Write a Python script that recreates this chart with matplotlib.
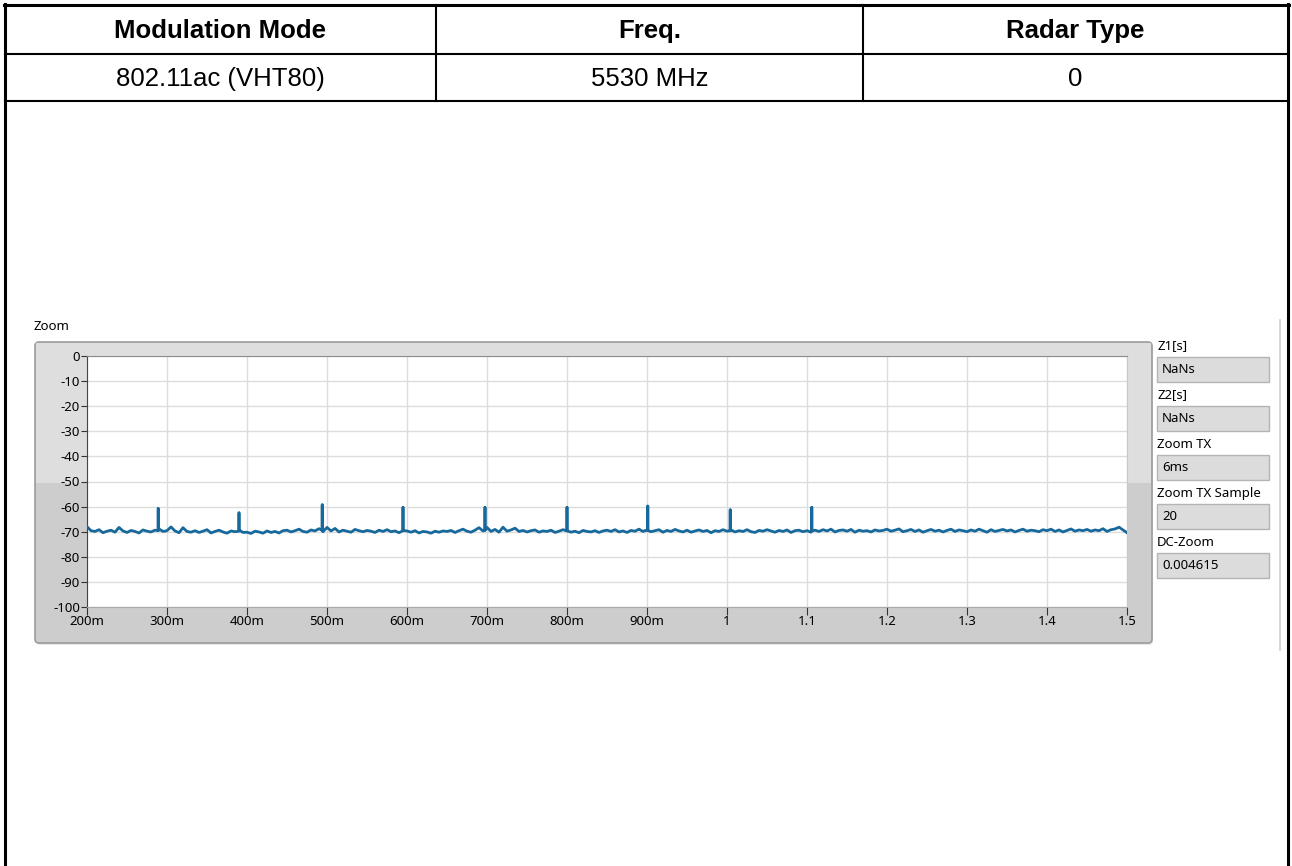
import numpy as np
import matplotlib
matplotlib.use('Agg')
import matplotlib.pyplot as plt
from matplotlib.patches import Rectangle, FancyBboxPatch

# table contents
headers = ['Modulation Mode', 'Freq.', 'Radar Type']
row_values = ['802.11ac (VHT80)', '5530 MHz', '0']

# indicator panel on the right of the graph
ind_labels = ['Z1[s]', 'Z2[s]', 'Zoom TX', 'Zoom TX Sample', 'DC-Zoom']
ind_values = ['NaNs', 'NaNs', '6ms', '20', '0.004615']

# axes ticks
y_ticks = [0, -10, -20, -30, -40, -50, -60, -70, -80, -90, -100]
x_ticks = [0.2, 0.3, 0.4, 0.5, 0.6, 0.7, 0.8, 0.9, 1.0, 1.1, 1.2, 1.3, 1.4, 1.5]
x_tick_labels = ['200m', '300m', '400m', '500m', '600m', '700m', '800m', '900m',
                 '1', '1.1', '1.2', '1.3', '1.4', '1.5']

# baseline trace, one value every 5 ms from 0.2 s to 1.5 s
baseline = [
    -68.0, -69.6, -69.9, -69.2, -70.4, -69.8, -69.4, -70.2, -68.3, -69.7,
    -70.3, -69.5, -69.9, -70.5, -69.3, -69.8, -70.1, -69.4, -68.9, -69.9,
    -69.6, -68.1, -69.7, -70.4, -68.4, -69.9, -70.2, -69.6, -70.3, -69.8,
    -69.2, -70.5, -69.9, -69.4, -70.1, -70.6, -69.7, -70.0, -69.3, -70.3,
    -70.2, -70.7, -69.8, -70.1, -70.6, -69.7, -70.3, -69.9, -70.5, -69.6,
    -69.4, -70.1, -69.6, -69.0, -69.9, -70.2, -69.3, -69.7, -68.8, -70.0,
    -68.3, -69.7, -68.7, -70.1, -69.4, -69.8, -70.2, -69.1, -69.6, -70.0,
    -69.5, -69.8, -70.3, -69.4, -69.9, -69.2, -70.0, -69.7, -70.4, -69.5,
    -69.7, -70.2, -69.6, -70.5, -69.9, -70.1, -70.6, -69.8, -70.2, -69.7,
    -69.9, -69.5, -70.3, -69.6, -69.0, -69.8, -70.2, -69.4, -68.4, -69.7,
    -68.3, -69.9, -69.1, -70.2, -68.2, -69.8, -69.3, -68.6, -69.9, -69.5,
    -70.1, -69.6, -69.3, -70.2, -69.7, -69.9, -69.4, -70.3, -69.8, -69.2,
    -69.6, -70.2, -69.8, -70.4, -69.5, -69.9, -70.1, -69.6, -70.3, -69.7,
    -69.4, -69.9, -69.2, -70.1, -69.7, -70.3, -69.5, -69.8, -69.0, -69.9,
    -69.3, -70.0, -69.6, -69.2, -70.2, -69.5, -69.9, -69.1, -69.7, -70.1,
    -69.4, -70.2, -69.7, -69.3, -69.9, -69.5, -70.4, -69.6, -69.9, -69.2,
    -69.8, -69.3, -70.1, -69.6, -69.9, -69.2, -70.0, -70.3, -69.5, -69.8,
    -69.2, -69.7, -70.2, -69.5, -69.9, -69.3, -70.3, -69.6, -69.4, -70.0,
    -69.6, -70.2, -69.4, -69.9, -69.2, -69.7, -69.0, -70.1, -69.5, -69.3,
    -69.8, -69.1, -70.2, -69.4, -69.8, -69.6, -70.1, -69.3, -69.7, -69.5,
    -69.0, -69.8, -69.4, -68.9, -70.0, -69.6, -69.1, -69.9, -69.3, -70.2,
    -69.6, -69.1, -69.8, -69.4, -70.1, -69.5, -69.0, -69.9, -69.3, -69.6,
    -70.0, -69.3, -69.8, -69.0, -69.6, -70.2, -69.2, -69.9, -69.5, -69.1,
    -69.7, -69.3, -70.1, -69.5, -69.0, -69.8, -69.4, -69.6, -70.0, -69.2,
    -69.6, -69.0, -69.9, -69.3, -70.1, -69.5, -68.9, -69.8, -69.3, -69.6,
    -69.1, -69.8, -69.3, -69.6, -68.8, -69.9, -69.2, -68.9, -68.2, -69.3,
    -70.4,
]
t_start, t_end = 0.2, 1.5

# radar pulses seen as narrow spikes
spike_times = [0.289, 0.390, 0.494, 0.595, 0.6975, 0.800, 0.901, 1.004, 1.106]
spike_peaks = [-60.8, -62.5, -59.3, -60.3, -60.3, -60.3, -59.8, -61.3, -60.3]
spike_feet = [-69.6, -69.8, -69.5, -69.6, -69.4, -69.7, -69.5, -69.6, -69.7]

W, H = 1292, 866
fig = plt.figure(figsize=(W / 100, H / 100), dpi=100)

# background axes in pixel coordinates
bg = fig.add_axes([0, 0, 1, 1])
bg.set_xlim(0, W)
bg.set_ylim(H, 0)
bg.axis('off')

# table lines
thick = 2.2
thin = 1.5
bg.plot([5, 5], [4, H], color='black', lw=thick)
bg.plot([1288, 1288], [4, H], color='black', lw=thick)
bg.plot([4, 1289], [5, 5], color='black', lw=thick)
bg.plot([5, 1288], [54, 54], color='black', lw=thin)
bg.plot([5, 1288], [101, 101], color='black', lw=thin)
col_x = [5, 436, 863, 1288]
for cx in col_x[1:-1]:
    bg.plot([cx, cx], [5, 101], color='black', lw=thin)
for i in range(3):
    cx = (col_x[i] + col_x[i + 1]) / 2
    bg.text(cx, 31, headers[i], ha='center', va='center', fontsize=18.5,
            fontweight='bold', family='Liberation Sans')
    bg.text(cx, 79, row_values[i], ha='center', va='center', fontsize=18.5,
            family='Liberation Sans')

# graph frame
bg.text(34, 327, 'Zoom', ha='left', va='center', fontsize=9.5, family='Noto Sans')
bg.add_patch(FancyBboxPatch((36, 344), 1117, 301, boxstyle='round,pad=0,rounding_size=4',
                            fc='#e6e6e6', ec='none'))
bg.add_patch(FancyBboxPatch((35, 342), 1117, 301, boxstyle='round,pad=0,rounding_size=4',
                            fc='#cdcdcd', ec='#9c9c9c', lw=1.2))
bg.add_patch(Rectangle((36, 343), 1115, 140, fc='#dedede', ec='none'))
bg.plot([1280, 1280], [320, 650], color='#d0d0d0', lw=1.2)

# indicators
box_top = [357, 406, 455, 504, 553]
for lab, val, by in zip(ind_labels, ind_values, box_top):
    bg.text(1157, by - 11, lab, ha='left', va='center', fontsize=9.5, family='Noto Sans')
    bg.add_patch(Rectangle((1157, by), 112, 25, fc='#dcdcdc', ec='#b4b4b4', lw=1))
    bg.text(1162, by + 12.5, val, ha='left', va='center', fontsize=9.5, family='Noto Sans')

# build the trace
t = np.linspace(t_start, t_end, len(baseline))
y = np.array(baseline)
for ts, pk, ft in zip(spike_times, spike_peaks, spike_feet):
    k = np.searchsorted(t, ts)
    t = np.insert(t, k, [ts, ts, ts])
    y = np.insert(y, k, [ft, pk, ft])

ax = fig.add_axes([87 / W, 1 - 607 / H, 1040 / W, 251 / H])
ax.set_facecolor('white')
ax.plot(t, y, color='#17699c', lw=2.0, zorder=3)
ax.set_xlim(t_start, t_end)
ax.set_ylim(-100, 0)
ax.set_xticks(x_ticks)
ax.set_xticklabels(x_tick_labels)
ax.set_yticks(y_ticks)
ax.set_yticklabels([str(v) for v in y_ticks])
ax.grid(True, color='#dcdcdc', lw=1)
ax.set_axisbelow(True)
ax.tick_params(axis='y', direction='out', length=4, width=0.8, color='#333333',
               labelsize=9.5, pad=1)
ax.tick_params(axis='x', direction='out', length=6, width=0.8, color='#333333',
               labelsize=9.5, pad=0)
for lbl in ax.get_xticklabels() + ax.get_yticklabels():
    lbl.set_family('Noto Sans')
ax.spines['left'].set_color('#444444')
ax.spines['top'].set_color('#8c8c8c')
ax.spines['bottom'].set_color('#a8a8a8')
ax.spines['right'].set_color('#c8c8c8')

fig.savefig('out.png', dpi=100)
